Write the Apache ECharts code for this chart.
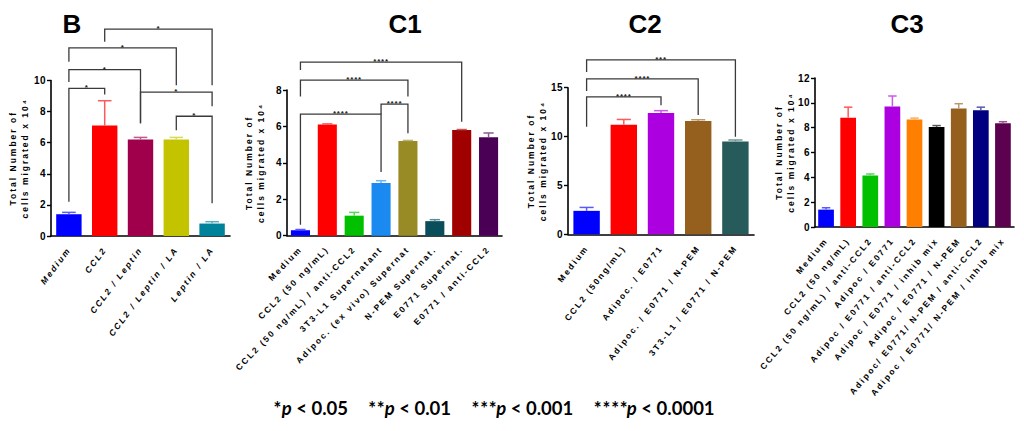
<!DOCTYPE html>
<html><head><meta charset="utf-8">
<script src="https://cdn.jsdelivr.net/npm/echarts@6/dist/echarts.min.js"></script>
<style>html,body{margin:0;padding:0;background:#fff}#c{width:1024px;height:431px}</style>
</head><body><div id="c"></div>
<script>
// ---------- Panel B ----------
const catsB = ['Medium', 'CCL2', 'CCL2 / Leptin', 'CCL2 / Leptin / LA', 'Leptin / LA'];
const meanB = [1.4, 7.1, 6.2, 6.2, 0.8];
const semB = [0.12, 1.6, 0.14, 0.14, 0.12];
const colorsB = ['#0000ff', '#ff0000', '#a0004b', '#c3c300', '#00829a'];
// [from, to, left leg end, bracket level, right leg end, label]
const sigB = [
  [0, 1, 2.2, 9.5, 9.1, '*'],
  [0, 2, 9.9, 10.7, 7.25, '*'],
  [0, 3, 11.2, 12.1, 9.7, '*'],
  [1, 4, 12.5, 13.3, 9.7, '*'],
  [2, 4, 7.25, 9.25, 8.35, '*'],
  [3, 4, 6.8, 7.7, 2.1, '*']
];

// ---------- Panel C1 ----------
const catsC1 = ['Medium', 'CCL2 (50 ng/mL)', 'CCL2 (50 ng/mL) / anti-CCL2', '3T3-L1 Supernatant',
  'Adipoc. (ex vivo) Supernat', 'N-PEM Supernat.', 'E0771 Supernat.', 'E0771 / anti-CCL2'];
const meanC1 = [0.3, 6.1, 1.1, 2.9, 5.2, 0.8, 5.8, 5.4];
const semC1 = [0.04, 0.04, 0.18, 0.12, 0.03, 0.08, 0.03, 0.24];
const colorsC1 = ['#0000ff', '#ff0000', '#00c000', '#1b8af0', '#988a24', '#0a4e5c', '#a00000', '#4a0055'];
const sigC1 = [
  [0, 3, 0.6, 6.67, 3.5, '****'],
  [3, 4, 6.67, 7.22, 5.63, '****'],
  [0, 4, 7.64, 8.54, 7.64, '****'],
  [0, 6, 9.1, 9.53, 6.26, '****']
];

// ---------- Panel C2 ----------
const catsC2 = ['Medium', 'CCL2 (50ng/mL)', 'Adipoc. / E0771', 'Adipoc. / E0771 / N-PEM', '3T3-L1 / E0771 / N-PEM'];
const meanC2 = [2.4, 11.2, 12.4, 11.6, 9.5];
const semC2 = [0.35, 0.55, 0.25, 0.12, 0.15];
const colorsC2 = ['#0000ff', '#ff0000', '#ad00e0', '#955f1e', '#275a5a'];
const sigC2 = [
  [0, 2, 11.0, 14.07, 13.2, '****'],
  [0, 3, 14.65, 15.9, 12.2, '****'],
  [0, 4, 16.6, 17.85, 9.98, '***']
];

// ---------- Panel C3 ----------
const catsC3 = ['Medium', 'CCL2 (50 ng/mL)', 'CCL2 (50 ng/mL) / anti-CCL2', 'Adipoc / E0771',
  'Adipoc / E0771 / anti-CCL2', 'Adipoc / E0771 / inhib mix', 'Adipoc / E0771 / N-PEM',
  'Adipoc/ E0771/ N-PEM / anti-CCL2', 'Adipoc / E0771/ N-PEM / inhib mix'];
const meanC3 = [1.4, 8.8, 4.15, 9.7, 8.65, 8.05, 9.55, 9.4, 8.35];
const semC3 = [0.15, 0.85, 0.12, 0.85, 0.12, 0.12, 0.38, 0.25, 0.13];
const colorsC3 = ['#0000ff', '#ff0000', '#00c000', '#ad00e0', '#ff8000', '#000000', '#955f1e', '#000080', '#5c0050'];

// ---------- Footnote ----------
const legendStars = ['*', '**', '***', '****'];
const legendP = ['0.05', '0.01', '0.001', '0.0001'];

const yName = 'Total Number of\ncells migrated x 10\u2074';

const panels = [
  {title: 'B', cats: catsB, mean: meanB, sem: semB, colors: colorsB, sig: sigB, max: 10, interval: 2,
   rotate: 53, italic: true, grid: {left: 51, top: 80.5, width: 179, height: 155.5}, titleX: 67, nameGap: 20},
  {title: 'C1', cats: catsC1, mean: meanC1, sem: semC1, colors: colorsC1, sig: sigC1, max: 8, interval: 2,
   rotate: 46, italic: false, grid: {left: 287, top: 90, width: 215, height: 145.7}, titleX: 400, nameGap: 20},
  {title: 'C2', cats: catsC2, mean: meanC2, sem: semC2, colors: colorsC2, sig: sigC2, max: 15, interval: 5,
   rotate: 52, italic: false, grid: {left: 568, top: 87.7, width: 186, height: 146.6}, titleX: 640, nameGap: 19},
  {title: 'C3', cats: catsC3, mean: meanC3, sem: semC3, colors: colorsC3, sig: null, max: 12, interval: 2,
   rotate: 50, italic: false, grid: {left: 815, top: 78, width: 199, height: 149}, titleX: 902, nameGap: 18}
];
const legendX = [311, 410, 523, 655];

function tint(hex, f) {
  const n = parseInt(hex.slice(1), 16);
  const r = n >> 16, g = (n >> 8) & 255, b = n & 255;
  const m = c => Math.round(c + (255 - c) * f);
  return 'rgb(' + m(r) + ',' + m(g) + ',' + m(b) + ')';
}

const chart = echarts.init(document.getElementById('c'), null, {renderer: 'svg'});
const grids = [], xAxes = [], yAxes = [], series = [], titles = [];

panels.forEach((p, i) => {
  grids.push(Object.assign({containLabel: false}, p.grid));
  titles.push({text: p.title, left: p.titleX, top: 6, textAlign: 'center',
    textStyle: {fontFamily: 'Arial', fontWeight: 'bold', fontSize: 26, color: '#000'}});
  xAxes.push({
    type: 'category', gridIndex: i, data: p.cats,
    axisLine: {lineStyle: {color: '#000', width: 1.6}},
    axisTick: {alignWithLabel: true, length: 5, lineStyle: {color: '#000', width: 1.4}},
    axisLabel: {interval: 0, rotate: p.rotate, margin: 12, color: '#000', fontFamily: 'Arial',
      fontWeight: 'bold', fontStyle: p.italic ? 'italic' : 'normal', fontSize: 8.5}
  });
  yAxes.push({
    type: 'value', gridIndex: i, min: 0, max: p.max, interval: p.interval,
    axisLine: {show: true, lineStyle: {color: '#000', width: 1.6}},
    axisTick: {show: true, length: 4, lineStyle: {color: '#000', width: 1.4}},
    splitLine: {show: false},
    axisLabel: {color: '#000', fontFamily: 'Arial', fontWeight: 'bold', fontSize: 10, margin: 5},
    name: yName, nameLocation: 'middle', nameGap: p.nameGap, nameRotate: 90, nameMoveOverlap: false,
    nameTextStyle: {color: '#000', fontFamily: 'Arial', fontWeight: 'bold', fontSize: 8.5, lineHeight: 12}
  });
  series.push({
    type: 'bar', xAxisIndex: i, yAxisIndex: i, barWidth: '71%', silent: true, z: 2,
    data: p.mean.map((v, j) => ({value: v, itemStyle: {color: p.colors[j]}}))
  });
  series.push({
    type: 'custom', xAxisIndex: i, yAxisIndex: i, silent: true, z: 3, clip: false,
    data: p.mean.map((v, j) => [j, v, v + p.sem[j]]),
    encode: {x: 0, y: [1, 2]},
    renderItem: (params, api) => {
      const base = api.coord([api.value(0), api.value(1)]);
      const top = api.coord([api.value(0), api.value(2)]);
      const w = api.size([1, 0])[0] * 0.38;
      const col = tint(p.colors[params.dataIndex], 0.35);
      return {type: 'group', children: [
        {type: 'line', shape: {x1: base[0], y1: base[1], x2: top[0], y2: top[1]}, style: {stroke: col, lineWidth: 1.5}},
        {type: 'line', shape: {x1: top[0] - w / 2, y1: top[1], x2: top[0] + w / 2, y2: top[1]}, style: {stroke: col, lineWidth: 1.5}}
      ]};
    }
  });
  if (p.sig) {
    series.push({
      type: 'custom', xAxisIndex: i, yAxisIndex: i, silent: true, z: 4, clip: false,
      data: p.sig.map(s => s.slice(0, 5)),
      encode: {x: [0, 1], y: [2, 3, 4]},
      renderItem: (params, api) => {
        const a = api.coord([api.value(0), api.value(2)]);
        const b = api.coord([api.value(0), api.value(3)]);
        const c = api.coord([api.value(1), api.value(3)]);
        const d = api.coord([api.value(1), api.value(4)]);
        const lbl = p.sig[params.dataIndex][5];
        return {type: 'group', children: [
          {type: 'polyline', shape: {points: [a, b, c, d]}, style: {stroke: '#3a3a3a', lineWidth: 1.3, fill: null}},
          {type: 'text', x: (b[0] + c[0]) / 2, y: b[1] - 0.5,
           style: {text: lbl, textAlign: 'center', textVerticalAlign: 'middle', font: 'bold 8px Arial', fill: '#222'}}
        ]};
      }
    });
  }
});

const graphic = legendStars.map((s, k) => ({
  type: 'text', x: legendX[k], y: 408, silent: true,
  style: {
    text: '{s|' + s + '}{i|p}{s| < ' + legendP[k] + '}',
    textAlign: 'center', textVerticalAlign: 'middle', fill: '#000',
    rich: {
      s: {fontFamily: 'Lato', fontWeight: 'bold', fontSize: 18.5, fill: '#000'},
      i: {fontFamily: 'Lato', fontWeight: 'bold', fontStyle: 'italic', fontSize: 18.5, fill: '#000'}
    }
  }
}));

chart.setOption({
  animation: false,
  backgroundColor: '#fff',
  title: titles,
  grid: grids,
  xAxis: xAxes,
  yAxis: yAxes,
  series: series,
  graphic: graphic
});

const spacedCats = new Set([].concat(catsB, catsC1, catsC2, catsC3));
function applySpacing() {
  document.querySelectorAll('#c svg text').forEach(t => {
    const s = t.textContent;
    if (spacedCats.has(s) || s === 'Total Number of' || s.indexOf('cells migrated') === 0) {
      t.style.letterSpacing = '2px';
    } else if (/^\d+$/.test(s)) {
      t.style.letterSpacing = '0.5px';
    } else if (/^\*+$/.test(s)) {
      t.style.letterSpacing = '0.8px';
    }
  });
}
chart.on('finished', applySpacing);
applySpacing();
</script>
</body></html>
